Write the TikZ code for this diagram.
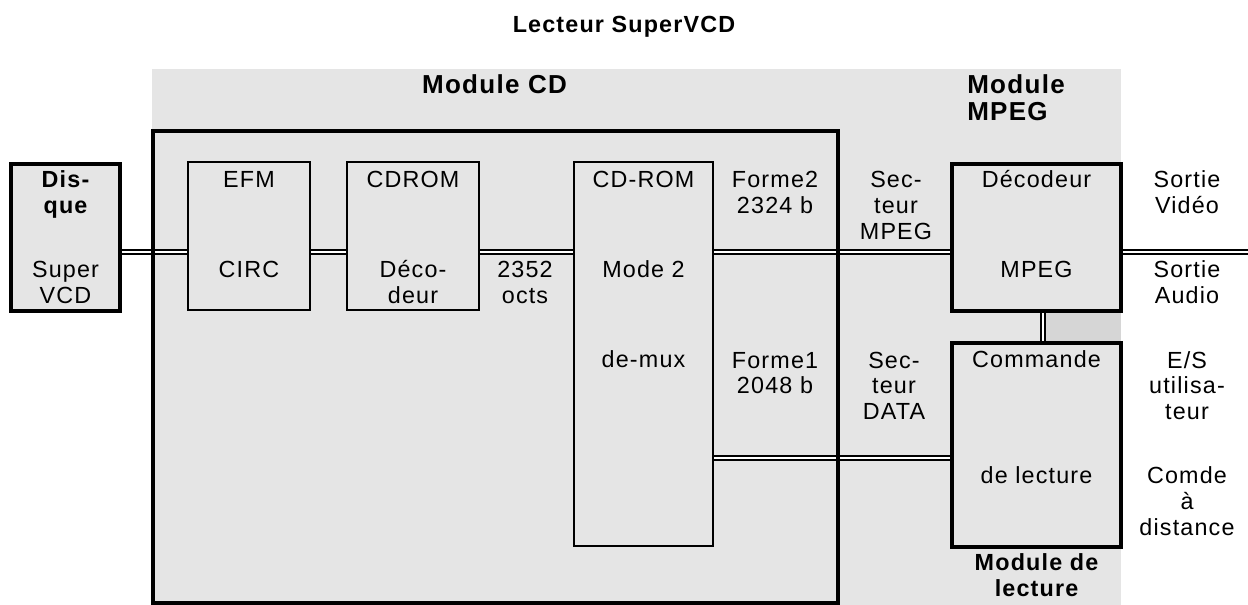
\documentclass[tikz,border=0pt]{standalone}
\usepackage{fontspec}
\setmainfont{Liberation Sans}[LetterSpace=5]
\usepackage{tikz}
\definecolor{panel}{RGB}{229,229,229}
\definecolor{panelshade}{RGB}{214,214,214}
\pgfdeclarelayer{bg}
\pgfdeclarelayer{wires}
\pgfsetlayers{bg,wires,main}

\begin{document}
\begin{tikzpicture}[
  x=0.75pt, y=-0.75pt,
  txt/.style={inner sep=0pt, align=center, anchor=base, font=\fontsize{17.5pt}{19.5pt}\selectfont},
  hdr/.style={txt, font=\fontsize{17.5pt}{19.5pt}\selectfont\bfseries},
  bighdr/.style={txt, font=\fontsize{19.5pt}{20.25pt}\selectfont\bfseries},
  blk/.style={draw, line width=1.3pt, fill=panel, inner sep=0pt},
  frame/.style={draw, line width=3pt, inner sep=0pt},
  heavy/.style={frame, fill=panel},
  link/.style={line width=1.1pt, double=white, double distance=1.6pt}
]
\useasboundingbox (0,0) rectangle (1248,605);
\begin{pgfonlayer}{bg}
  \fill[panel] (152,69) rectangle (1121,605);
  \fill[panelshade] (1045,313) rectangle (1121,342);
\end{pgfonlayer}

\node[heavy, minimum width=81.75pt, minimum height=110.25pt] (disque) at (65.5,237.5) {};
\node[blk, minimum width=91.5pt, minimum height=111pt] (efm) at (249,236) {};
\node[blk, minimum width=99pt, minimum height=111pt] (cdrom) at (413,236) {};
\node[blk, minimum width=104.25pt, minimum height=288pt] (demux) at (643.5,354) {};
\node[frame, minimum width=513.75pt, minimum height=353.625pt] (modcd) at (495.5,367.25) {};
\node[heavy, minimum width=126.75pt, minimum height=110.25pt] (mpegdec) at (1036.5,237.5) {};
\node[heavy, minimum width=126.75pt, minimum height=153pt] (cmdlect) at (1036.5,445) {};

\coordinate (bus) at (0,252);
\coordinate (databus) at (0,458);
\coordinate (tap) at (1043,0);
\coordinate (vout) at (1248,252);
\begin{pgfonlayer}{wires}
  \draw[link] (disque.east |- bus) -- (efm.west |- bus);
  \draw[link] (efm.east |- bus) -- (cdrom.west |- bus);
  \draw[link] (cdrom.east |- bus) -- (demux.west |- bus);
  \draw[link] (demux.east |- bus) -- (mpegdec.west |- bus);
  \draw[link] (mpegdec.east |- bus) -- (vout);
  \draw[link] (demux.east |- databus) -- (cmdlect.west |- databus);
  \draw[link] (mpegdec.south -| tap) -- (cmdlect.north -| tap);
\end{pgfonlayer}

\node[hdr] (title) at (624,33) {Lecteur SuperVCD};
\node[bighdr] (lblcd) at (494.5,94) {Module CD};
\node[bighdr, align=left, anchor=base west] (lblmpeg) at (967,121) {Module\\MPEG};
\node[hdr] (lbllect) at (1036.5,596) {Module de\\lecture};
\node[hdr] (tdisque) at (65.5,214) {Dis-\\que};
\node[txt] (tsvcd) at (65.5,304) {Super\\VCD};
\node[txt] (tefm) at (249,188) {EFM};
\node[txt] (tcirc) at (249,278) {CIRC};
\node[txt] (tcdrom) at (413,188) {CDROM};
\node[txt] (tdeco) at (413,304) {Déco-\\deur};
\node[txt] (toct) at (525,304) {2352\\octs};
\node[txt] (tmux1) at (643.5,188) {CD-ROM};
\node[txt] (tmux2) at (643.5,278) {Mode 2};
\node[txt] (tmux3) at (643.5,368) {de-mux};
\node[txt] (tf2) at (775,214) {Forme2\\2324 b};
\node[txt] (ts2) at (896,240) {Sec-\\teur\\MPEG};
\node[txt] (tf1) at (775,394) {Forme1\\2048 b};
\node[txt] (ts1) at (894,420) {Sec-\\teur\\DATA};
\node[txt] (tdec1) at (1036.5,188) {Décodeur};
\node[txt] (tdec2) at (1036.5,278) {MPEG};
\node[txt] (tcmd1) at (1036.5,368) {Commande};
\node[txt] (tcmd2) at (1036.5,483) {de lecture};
\node[txt] (tvid) at (1187,214) {Sortie\\Vidéo};
\node[txt] (taud) at (1187,304) {Sortie\\Audio};
\node[txt] (tes) at (1187,420) {E/S\\utilisa-\\teur};
\node[txt] (tcomde) at (1187,535) {Comde\\à\\distance};
\end{tikzpicture}
\end{document}
